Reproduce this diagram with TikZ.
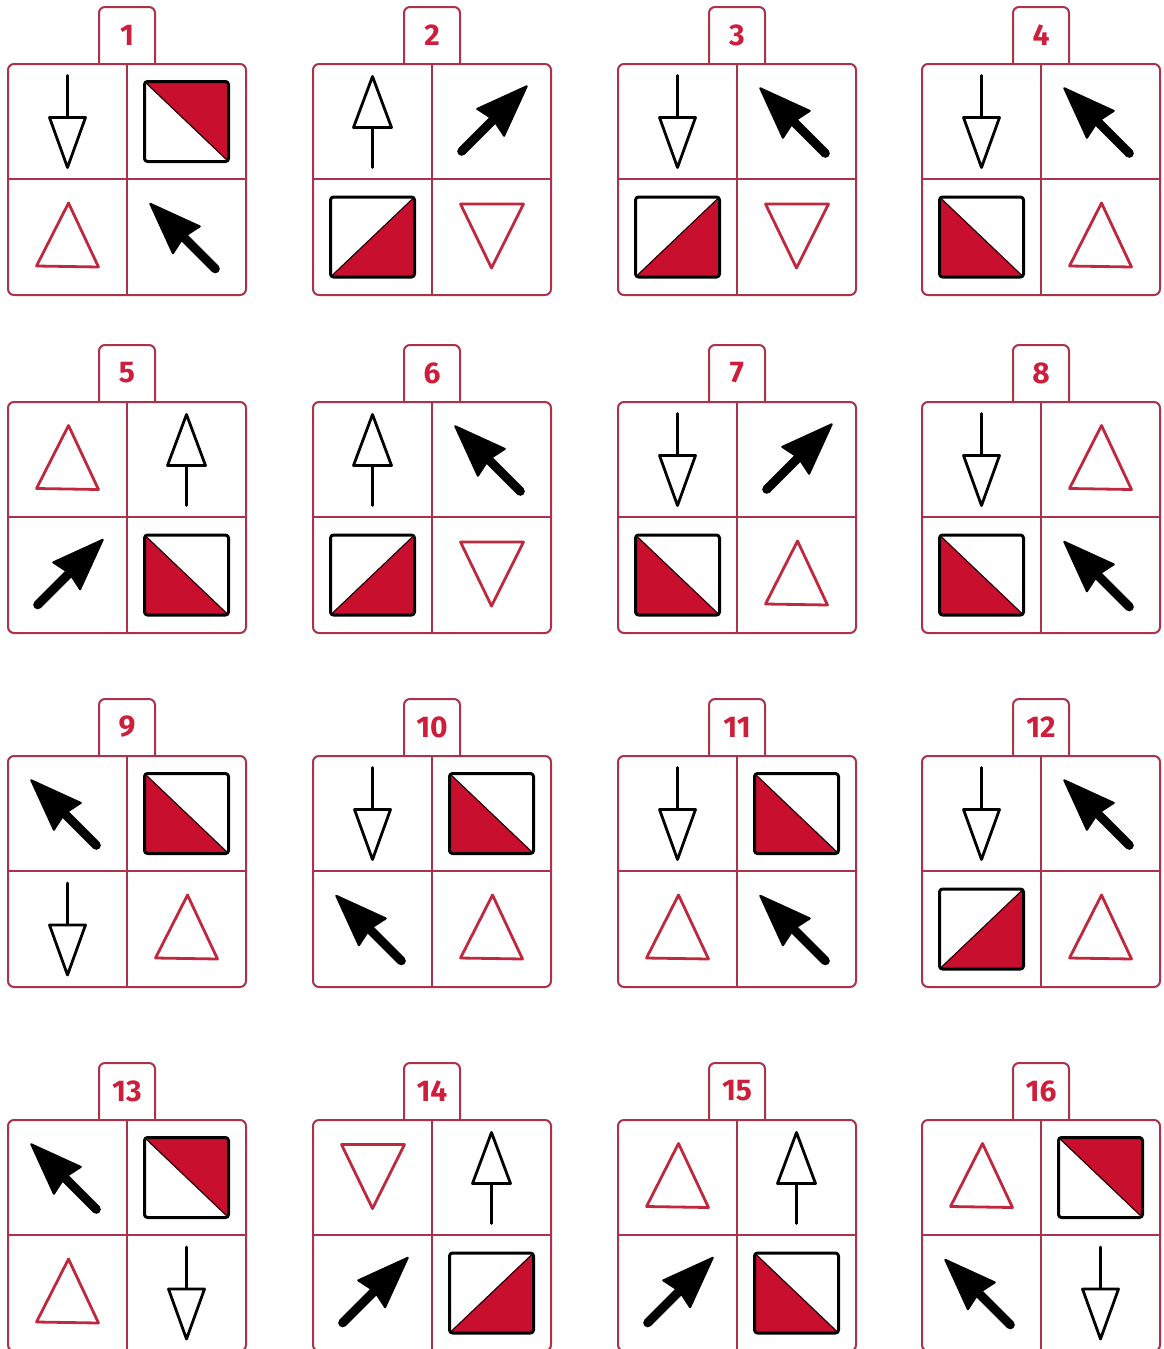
\documentclass[tikz,border=0pt]{standalone}
\usepackage{fontspec}
\setmainfont{Fira Sans}
\definecolor{cardc}{RGB}{170,50,75}
\definecolor{flagred}{RGB}{200,16,46}
\definecolor{trired}{RGB}{192,40,62}
\definecolor{numred}{RGB}{205,30,60}
\newcommand\fatarrowcode{%
  \draw[line width=4.5pt, line cap=round] (0,0) -- (0,45);
  \filldraw[line width=1pt, line join=round] (0,-47) -- (19,4) -- (0,0) -- (-19,4) -- cycle;}
\tikzset{
  cardline/.style={draw=cardc, line width=1pt},
  numlabel/.style={text=numred, font=\fontsize{15}{15}\selectfont\bfseries, inner sep=0pt},
  openline/.style={draw=black, line width=1.4pt, line join=round, line cap=round},
  triline/.style={draw=trired, line width=1.4pt, line join=round},
  flagline/.style={draw=black, line width=1.5pt, line join=round, rounded corners=1.5pt},
  diagline/.style={draw=black!80!flagred, line width=0.6pt},
  dnarr/.pic={\draw[openline] (0,-46) -- (0,-4);
              \draw[openline, fill=white] (-18,-4) -- (18,-4) -- (0,46) -- cycle;},
  uparr/.pic={\draw[openline] (0,46) -- (0,6);
              \draw[openline, fill=white] (-19,6) -- (19,6) -- (0,-45) -- cycle;},
  nwarr/.pic={\begin{scope}[shift={(-3,0)},rotate=45]\fatarrowcode\end{scope}},
  nearr/.pic={\begin{scope}[shift={(2,-2)},rotate=-45]\fatarrowcode\end{scope}},
  tup/.pic={\draw[triline] (1,-34) -- (31,30) -- (-31,29) -- cycle;},
  tdn/.pic={\draw[triline] (-31,-33) -- (32,-33) -- (0,31) -- cycle;},
  flagtr/.pic={\fill[flagred] (-42,-40) -- (42,-40) -- (42,40) -- cycle;
               \draw[diagline] (-42,-40) -- (42,40);
               \draw[flagline] (-42,-40) rectangle (42,40);},
  flagbl/.pic={\fill[flagred] (-42,-40) -- (42,40) -- (-42,40) -- cycle;
               \draw[diagline] (-42,-40) -- (42,40);
               \draw[flagline] (-42,-40) rectangle (42,40);},
  flagbr/.pic={\fill[flagred] (-42,40) -- (42,-40) -- (42,40) -- cycle;
               \draw[diagline] (-42,40) -- (42,-40);
               \draw[flagline] (-42,-40) rectangle (42,40);},
}
% #1 left, #2 top, #3 number, #4 TL, #5 TR, #6 BL, #7 BR
\newcommand\mycard[7]{%
  \draw[cardline, rounded corners=3pt] (#1+91,#2) -- (#1+91,#2-57) -- (#1+147,#2-57) -- (#1+147,#2);
  \node[numlabel] (lab#3) at (#1+119,#2-29) {#3};
  \draw[cardline, rounded corners=3pt] (#1,#2) rectangle (#1+238,#2+231);
  \draw[cardline] (#1+119,#2) -- (#1+119,#2+231);
  \draw[cardline] (#1,#2+115) -- (#1+238,#2+115);
  \pic at (#1+59.5,#2+57.5) {#4};
  \pic at (#1+178.5,#2+57.5) {#5};
  \pic at (#1+59.5,#2+173) {#6};
  \pic at (#1+178.5,#2+173) {#7};
}
\begin{document}
\begin{tikzpicture}[x=0.5pt,y=-0.5pt]
\useasboundingbox[fill=white] (0,0) rectangle (1163,1349);
\mycard{8}{64}{1}{dnarr}{flagtr}{tup}{nwarr}
\mycard{313}{64}{2}{uparr}{nearr}{flagbr}{tdn}
\mycard{618}{64}{3}{dnarr}{nwarr}{flagbr}{tdn}
\mycard{922}{64}{4}{dnarr}{nwarr}{flagbl}{tup}
\mycard{8}{402}{5}{tup}{uparr}{nearr}{flagbl}
\mycard{313}{402}{6}{uparr}{nwarr}{flagbr}{tdn}
\mycard{618}{402}{7}{dnarr}{nearr}{flagbl}{tup}
\mycard{922}{402}{8}{dnarr}{tup}{flagbl}{nwarr}
\mycard{8}{756}{9}{nwarr}{flagbl}{dnarr}{tup}
\mycard{313}{756}{10}{dnarr}{flagbl}{nwarr}{tup}
\mycard{618}{756}{11}{dnarr}{flagbl}{tup}{nwarr}
\mycard{922}{756}{12}{dnarr}{nwarr}{flagbr}{tup}
\mycard{8}{1120}{13}{nwarr}{flagtr}{tup}{dnarr}
\mycard{313}{1120}{14}{tdn}{uparr}{nearr}{flagbr}
\mycard{618}{1120}{15}{tup}{uparr}{nearr}{flagbl}
\mycard{922}{1120}{16}{tup}{flagtr}{nwarr}{dnarr}
\end{tikzpicture}
\end{document}
